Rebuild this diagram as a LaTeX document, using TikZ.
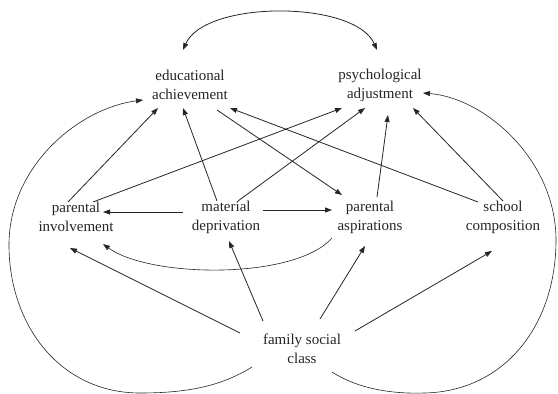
\documentclass[tikz,border=0pt]{standalone}
\usepackage{fontspec}
\setmainfont{Liberation Serif}
\usetikzlibrary{arrows.meta}
\begin{document}
\begin{tikzpicture}[x=1pt,y=-1pt,
  lbl/.style={align=center,font=\fontsize{15}{19}\selectfont,text=black!85,inner sep=0pt},
  arr/.style={draw=black!85,line width=0.8pt,-{Triangle[length=7pt,width=5pt]}},
  darr/.style={draw=black!85,line width=0.8pt,{Triangle[length=7pt,width=5pt]}-{Triangle[length=7pt,width=5pt]}},
  curv/.style={draw=black!85,line width=0.6pt,-{Triangle[length=7pt,width=5pt]}}]
\fill[white] (0,0) rectangle (558,394);
\useasboundingbox (0,0) rectangle (558,394);
% nodes
\node[lbl] (ea)  at (190,85)  {educational\\achievement};
\node[lbl] (psy) at (380,85)  {psychological\\adjustment};
\node[lbl] (pi)  at (76,217)  {parental\\involvement};
\node[lbl] (md)  at (226,217) {material\\deprivation};
\node[lbl] (pa)  at (370,217) {parental\\aspirations};
\node[lbl] (sc)  at (503,217) {school\\composition};
\node[lbl] (fsc) at (302,349) {family social\\class};
% top double arrow
\draw[darr] ([shift={(-7,-35)}]ea.center) .. controls (205,0) and (355,0) .. ([shift={(-3,-35)}]psy.center);
% big left curve
\draw[curv] ([shift={(-50,18)}]fsc.center) .. controls (220,387) and (185,393) .. (140,393)
  .. controls (60,393) and (9,325) .. (9,245)
  .. controls (9,165) and (80,108) .. ([shift={(-47,15)}]ea.center);
% big right curve
\draw[curv] ([shift={(30,23)}]fsc.center) .. controls (360,390) and (395,394) .. (425,393)
  .. controls (505,391) and (556,325) .. (556,240)
  .. controls (556,160) and (485,98) .. ([shift={(43,8)}]psy.center);
% straight arrows
\draw[arr] ([shift={(-8,-15)}]pi.center) -- ([shift={(-32,23)}]ea.center);
\draw[arr] ([shift={(17,-15)}]pi.center) -- ([shift={(-38,23)}]psy.center);
\draw[arr] ([shift={(-9,-16)}]md.center) -- ([shift={(-7,23)}]ea.center);
\draw[arr] ([shift={(12,-16)}]md.center) -- ([shift={(-15,23)}]psy.center);
\draw[arr] ([shift={(27,25)}]ea.center) -- ([shift={(-28,-22)}]pa.center);
\draw[arr] ([shift={(7,-20)}]pa.center) -- ([shift={(8,30)}]psy.center);
\draw[arr] ([shift={(-25,-15)}]sc.center) -- ([shift={(40,23)}]ea.center);
\draw[arr] ([shift={(0,-16)}]sc.center) -- ([shift={(33,23)}]psy.center);
\draw[arr] ([shift={(-43,-5)}]md.center) -- ([shift={(27,-5)}]pi.center);
\draw[arr] ([shift={(37,-7)}]md.center) -- ([shift={(-38,-7)}]pa.center);
% aspirations -> involvement curve
\draw[curv] ([shift={(-38,21)}]pa.center) .. controls (295,280) and (150,278) .. ([shift={(27,27)}]pi.center);
% from family social class
\draw[arr] ([shift={(-62,-16)}]fsc.center) -- ([shift={(-6,31)}]pi.center);
\draw[arr] ([shift={(-39,-28)}]fsc.center) -- ([shift={(3,24)}]md.center);
\draw[arr] ([shift={(18,-30)}]fsc.center) -- ([shift={(-5,29)}]pa.center);
\draw[arr] ([shift={(53,-18)}]fsc.center) -- ([shift={(-11,34)}]sc.center);
\end{tikzpicture}
\end{document}
